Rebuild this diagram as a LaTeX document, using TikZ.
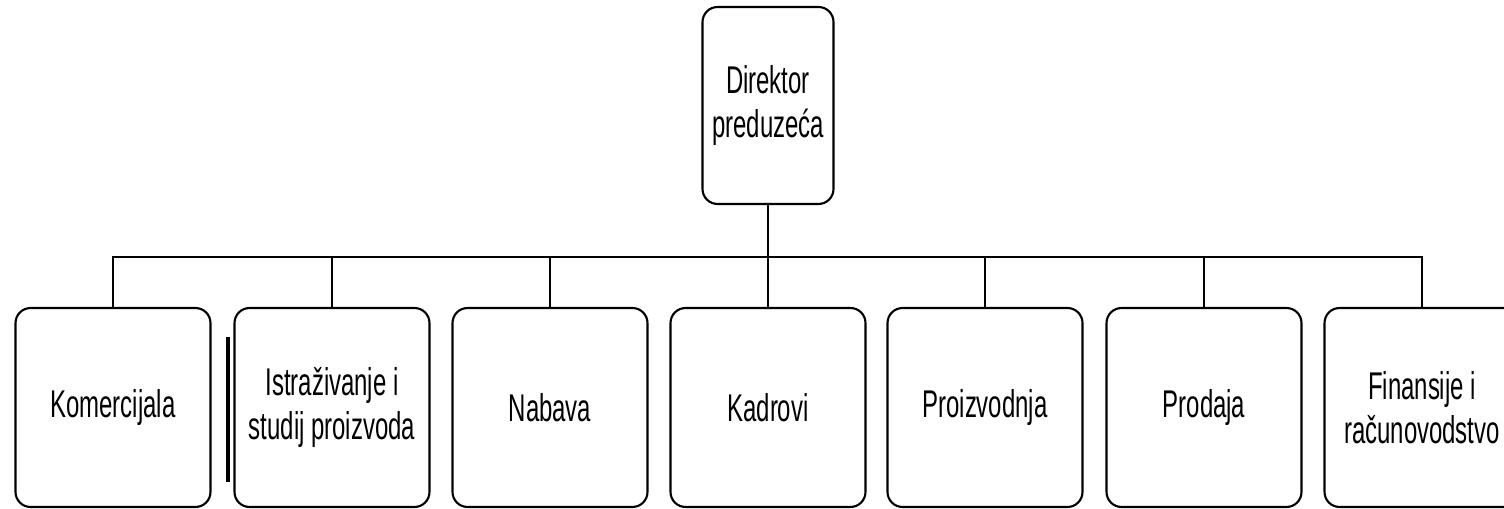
\documentclass[tikz,border=0pt]{standalone}
\usepackage{fontspec}
\setmainfont[FakeStretch=0.62]{Liberation Sans}
\begin{document}
\begin{tikzpicture}[x=0.02cm,y=-0.02cm,
  unit/.style={draw, line width=1.2pt, rounded corners=0.3cm, align=center,
    minimum width=3.9cm, minimum height=3.98cm, inner sep=0pt,
    font=\fontsize{22}{25}\selectfont},
  head/.style={unit, minimum width=2.62cm, minimum height=3.94cm},
  link/.style={line width=1pt}]
\useasboundingbox (0,0) rectangle (1504,509);

% top management
\node[head] (dir) at (768,105.5) {Direktor\\preduzeća};

% departments
\node[unit] (k1) at (113,407.5)  {Komercijala};
\node[unit] (k2) at (332,407.5)  {Istraživanje i\\studij proizvoda};
\node[unit] (k3) at (550,407.5)  {Nabava};
\node[unit] (k4) at (768,407.5)  {Kadrovi};
\node[unit] (k5) at (985,407.5)  {Proizvodnja};
\node[unit] (k6) at (1204,407.5) {Prodaja};
\node[unit] (k7) at (1422,407.5) {Finansije i\\računovodstvo};

% distribution bus
\coordinate (bus) at (768,257);
\draw[link] (dir.south) -- (k4.north);
\draw[link] (k1.north) -- (k1.north |- bus) -- (k7.north |- bus) -- (k7.north);
\foreach \k in {k2,k3,k5,k6}
  \draw[link] (\k.north) -- (\k.north |- bus);

% heavy rule beside the research unit
\draw[line width=2.2pt] ([xshift=-3pt]k2.west |- 0,337) -- ([xshift=-3pt]k2.west |- 0,482);
\end{tikzpicture}
\end{document}
